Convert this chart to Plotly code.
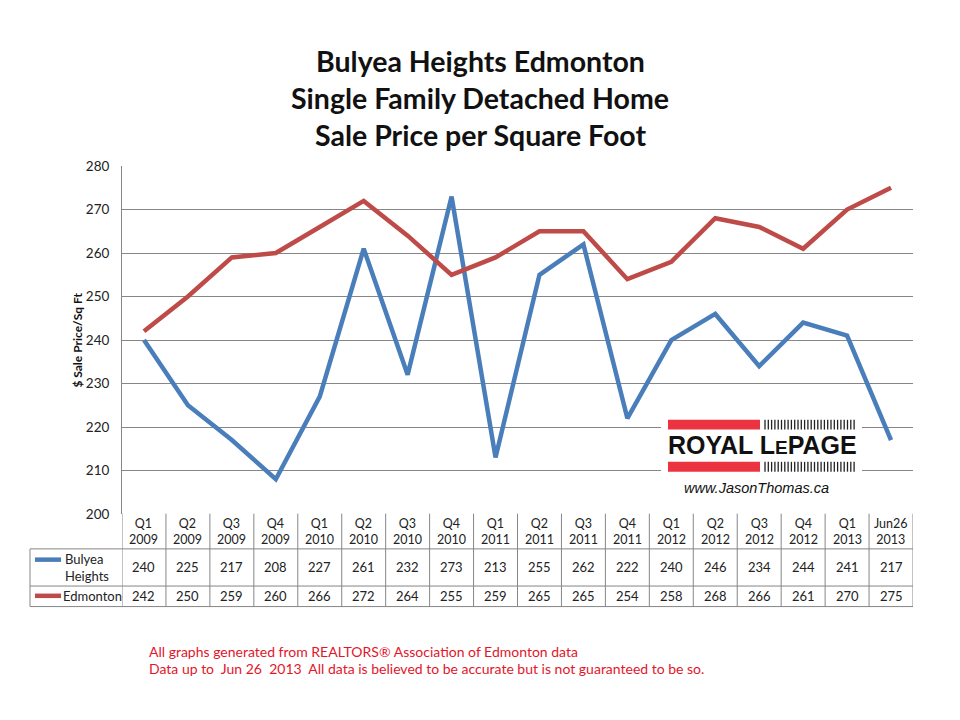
import plotly.graph_objects as go

# data
periods = ["Q1<br>2009", "Q2<br>2009", "Q3<br>2009", "Q4<br>2009",
           "Q1<br>2010", "Q2<br>2010", "Q3<br>2010", "Q4<br>2010",
           "Q1<br>2011", "Q2<br>2011", "Q3<br>2011", "Q4<br>2011",
           "Q1<br>2012", "Q2<br>2012", "Q3<br>2012", "Q4<br>2012",
           "Q1<br>2013", "Jun26<br>2013"]
bulyea = [240, 225, 217, 208, 227, 261, 232, 273, 213, 255, 262, 222,
          240, 246, 234, 244, 241, 217]
edmonton = [242, 250, 259, 260, 266, 272, 264, 255, 259, 265, 265, 254,
            258, 268, 266, 261, 270, 275]
series_names = ["Bulyea<br>Heights", "Edmonton"]
y_ticks = [200, 210, 220, 230, 240, 250, 260, 270, 280]

W, H = 960, 720
OFF = 8  # the page puts the figure 8px in from the top-left corner
BLUE = "#4a7ebb"
RED = "#be4b48"
GRID = "#868686"
FONT = "Lato, 'Open Sans', sans-serif"


def px(x):
    return (x - OFF) / W


def py(y):
    return 1 - (y - OFF) / H


def label(x, y, text, size, xref="paper", xanchor="center", **kw):
    font = dict(size=size, color=kw.pop("color", "#222"))
    if "family" in kw:
        font["family"] = kw.pop("family")
    return dict(x=x, y=y, xref=xref, yref="paper", text=text, showarrow=False,
                xanchor=xanchor, yanchor="middle", font=font, **kw)


fig = go.Figure()
fig.add_trace(go.Scatter(x=periods, y=bulyea, mode="lines", name="Bulyea Heights",
                         line=dict(color=BLUE, width=4.5)))
fig.add_trace(go.Scatter(x=periods, y=edmonton, mode="lines", name="Edmonton",
                         line=dict(color=RED, width=4.5)))

shapes = []
annotations = []

# data table below the plot
n = len(periods)
for i in range(n + 1):
    shapes.append(dict(type="line", xref="x", yref="paper", x0=i - 0.5, x1=i - 0.5,
                       y0=py(517), y1=py(612), line=dict(color=GRID, width=1)))
for yy in (553, 591, 612):
    shapes.append(dict(type="line", xref="paper", yref="paper", x0=px(30), x1=px(913),
                       y0=py(yy), y1=py(yy), line=dict(color=GRID, width=1)))
shapes.append(dict(type="line", xref="paper", yref="paper", x0=px(30), x1=px(30),
                   y0=py(553), y1=py(612), line=dict(color=GRID, width=1)))

for i, p in enumerate(periods):
    annotations.append(label(i, py(535), p, 12.5, xref="x"))
    annotations.append(label(i, py(572), str(bulyea[i]), 13, xref="x"))
    annotations.append(label(i, py(601), str(edmonton[i]), 13, xref="x"))

# legend keys inside the table
for yy, col in ((564, BLUE), (601, RED)):
    shapes.append(dict(type="line", xref="paper", yref="paper", x0=px(35), x1=px(61),
                       y0=py(yy), y1=py(yy), line=dict(color=col, width=4.5)))
annotations.append(label(px(63), py(572), series_names[0], 13, xanchor="left", align="left"))
annotations.append(label(px(61), py(601), series_names[1], 13, xanchor="left"))

# Royal LePage logo
shapes.append(dict(type="rect", xref="paper", yref="paper", x0=px(661), x1=px(862),
                   y0=py(505), y1=py(413), fillcolor="white", line=dict(width=0),
                   layer="above"))
for y0, y1 in ((421, 431), (464, 474)):
    shapes.append(dict(type="rect", xref="paper", yref="paper", x0=px(668), x1=px(760),
                       y0=py(y1), y1=py(y0), fillcolor="#ec3340", line=dict(width=0),
                       layer="above"))
    for k in range(28):
        xb = 765 + k * 3.3
        shapes.append(dict(type="line", xref="paper", yref="paper", x0=px(xb), x1=px(xb),
                           y0=py(y1), y1=py(y0), line=dict(color="#222", width=1.3),
                           layer="above"))
annotations.append(label(px(762), py(447),
                         "<b>ROYAL L<span style='font-size:19px'>E</span>PAGE</b>", 25,
                         color="#111", family="Liberation Sans, Arial"))
annotations.append(label(px(756), py(491), "<i>www.JasonThomas.ca</i>", 14.5,
                         color="#111", family="Liberation Sans, Arial"))

# titles and notes
for k, t in enumerate(["Bulyea Heights Edmonton", "Single Family Detached Home",
                       "Sale Price per Square Foot"]):
    annotations.append(label(px(480), py(54 + 38 * k), "<b>%s</b>" % t, 28.5, color="#111"))
annotations.append(label(px(78), py(340), "<b>$ Sale Price/Sq Ft</b>", 12,
                         color="#111", textangle=-90))
annotations.append(label(px(147), py(658),
                         "All graphs generated from REALTORS® Association of Edmonton data",
                         14, xanchor="left", color="#e3152b"))
annotations.append(label(px(147), py(675),
                         "Data up to  Jun 26  2013  All data is believed to be accurate but is not guaranteed to be so.",
                         14, xanchor="left", color="#e3152b"))

fig.update_layout(
    width=W, height=H,
    margin=dict(l=0, r=0, t=0, b=0),
    paper_bgcolor="white", plot_bgcolor="white",
    showlegend=False,
    font=dict(family=FONT, color="#222"),
    shapes=shapes,
    annotations=annotations,
    xaxis=dict(domain=[px(122), px(913)], range=[-0.5, n - 0.5], showticklabels=False,
               showgrid=False, zeroline=False, type="category"),
    yaxis=dict(domain=[py(517.3), py(161.5)], range=[200, 280], tickvals=y_ticks,
               showgrid=True, gridcolor=GRID, gridwidth=1, zeroline=False,
               showline=True, linecolor=GRID, ticks="", ticklen=0,
               tickfont=dict(size=13.5, color="#222"), ticklabelstandoff=9),
)

fig.write_html("out.html")
